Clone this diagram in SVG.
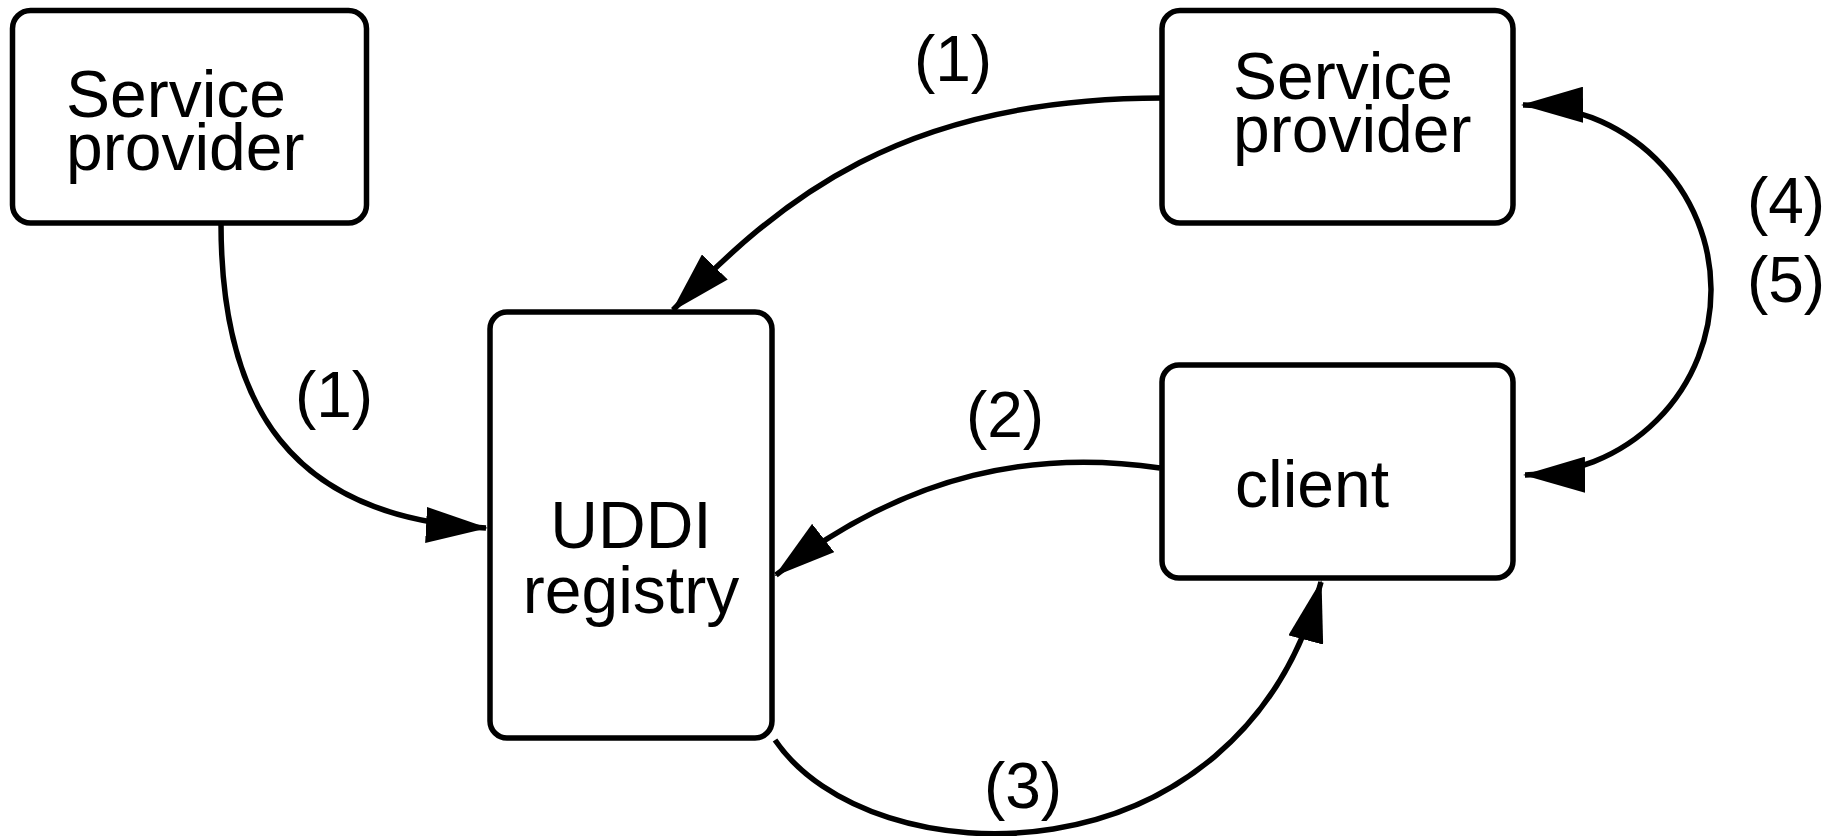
<svg xmlns="http://www.w3.org/2000/svg" width="1837" height="836" viewBox="0 0 1837 836">
<style>
.box{fill:#fff;stroke:#000;stroke-width:5.5}
.t{font-family:"Liberation Sans",Arial,sans-serif;font-size:66px;fill:#000}
.lbl{font-family:"Liberation Sans",Arial,sans-serif;font-size:64px;fill:#000;text-anchor:middle}
.c{fill:none;stroke:#000;stroke-width:5.5}
</style>
<defs>
<marker id="ah" markerUnits="userSpaceOnUse" viewBox="0 0 62 36" refX="60" refY="18" markerWidth="62" markerHeight="36" orient="auto-start-reverse">
<path d="M0,0 L62,18 L0,36 z" fill="#000"/>
</marker>
</defs>
<rect width="1837" height="836" fill="#fff"/>
<g id="sp-left">
<rect class="box" x="12.5" y="10.5" width="354" height="212.5" rx="18"/>
<text class="t" x="66" y="117">Service</text>
<text class="t" x="66" y="170">provider</text>
</g>
<g id="sp-right">
<rect class="box" x="1162" y="10.5" width="351" height="212.5" rx="18"/>
<text class="t" x="1233" y="99">Service</text>
<text class="t" x="1233" y="152">provider</text>
</g>
<g id="uddi">
<rect class="box" x="490" y="312" width="282" height="426" rx="17"/>
<text class="t" x="631" y="548" text-anchor="middle">UDDI</text>
<text class="t" x="631" y="613" text-anchor="middle">registry</text>
</g>
<g id="client">
<rect class="box" x="1162" y="365" width="351" height="213" rx="17"/>
<text class="t" x="1235" y="507">client</text>
</g>
<g id="connectors">
<path class="c" d="M221,223 C221,405 290,518 486,528" marker-end="url(#ah)"/>
<path class="c" d="M1162,98 C900,98 780,200 673,310" marker-end="url(#ah)"/>
<path class="c" d="M1160,468 C1040,450 910,470 776,575" marker-end="url(#ah)"/>
<path class="c" d="M775,740 C870,880 1240,890 1321,582" marker-end="url(#ah)"/>
<path class="c" d="M1523,105 A187,185 0 0 1 1525,475" marker-start="url(#ah)" marker-end="url(#ah)"/>
<text class="lbl" x="953" y="81">(1)</text>
<text class="lbl" x="334" y="417">(1)</text>
<text class="lbl" x="1005" y="437">(2)</text>
<text class="lbl" x="1023" y="808">(3)</text>
<text class="lbl" x="1786" y="223">(4)</text>
<text class="lbl" x="1786" y="302">(5)</text>
</g>
</svg>
